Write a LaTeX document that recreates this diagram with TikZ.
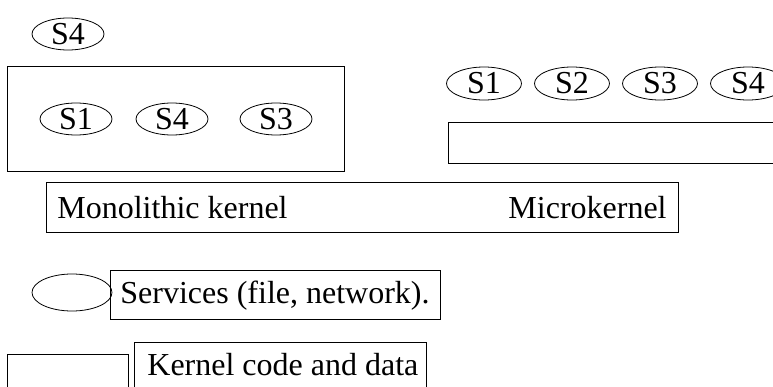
\documentclass[tikz,border=0pt]{standalone}
\usepackage{fontspec}
\setmainfont{Liberation Serif}
\usetikzlibrary{shapes.geometric}
\begin{document}
\begin{tikzpicture}[x=1pt,y=-1pt,line width=0.8pt,
  txt/.style={font=\fontsize{32}{38}\selectfont},
  svc/.style={draw,ellipse,inner sep=0pt,minimum width=72pt,minimum height=32pt,txt},
  svcr/.style={svc,minimum width=75pt,minimum height=33pt},
  box/.style={draw,rectangle,anchor=north west,inner sep=0pt},
  lbl/.style={inner sep=0pt,anchor=base west,txt}]
\clip (0,0) rectangle (773,386);
\useasboundingbox (0,0) rectangle (773,386);

% monolithic side: one service outside, three inside the kernel
\node[svc] (mS4top) at (68,34) {S4};
\node[box,minimum width=337pt,minimum height=105pt] (monobox) at (7,66) {};
\node[svc] (mS1) at (76,119) {S1};
\node[svc] (mS4) at (172,119) {S4};
\node[svc] (mS3) at (276,119) {S3};

% microkernel side: services above a small kernel
\node[svcr] (uS1) at (484,83.5) {S1};
\node[svcr] (uS2) at (572,83.5) {S2};
\node[svcr] (uS3) at (660,83.5) {S3};
\node[svcr] (uS4) at (748,83.5) {S4};
\node[box,minimum width=400pt,minimum height=41pt] (microbox) at (448,122) {};

% caption bar
\node[box,minimum width=632pt,minimum height=50pt] (capbox) at (46,182) {};
\node[lbl] (monotxt) at (57,218) {Monolithic kernel};
\node[lbl,anchor=base east] (microtxt) at (667,218) {Microkernel};

% legend
\node[draw,ellipse,inner sep=0pt,minimum width=80pt,minimum height=37pt] (legsvc) at (72,292.5) {};
\node[box,minimum width=330pt,minimum height=49pt] (legsvcbox) at (110,270) {};
\node[lbl] (legsvctxt) at (120,303) {Services (file, network).};

\node[box,minimum width=121pt,minimum height=50pt] (legker) at (7,354) {};
\node[box,minimum width=292pt,minimum height=60pt] (legkerbox) at (134,342) {};
\node[lbl] (legkertxt) at (147,375) {Kernel code and data};
\end{tikzpicture}
\end{document}
